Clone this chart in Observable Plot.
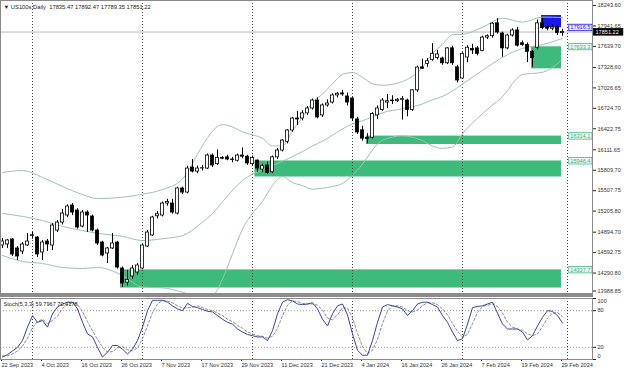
<!DOCTYPE html>
<html><head><meta charset="utf-8">
<script src="https://cdn.jsdelivr.net/npm/d3@7"></script>
<script src="https://cdn.jsdelivr.net/npm/@observablehq/plot@0.6"></script>
<style>
html,body{margin:0;padding:0;background:#fff;}
#wrap{position:relative;width:625px;height:375px;overflow:hidden;background:#fff;}
#wrap svg{position:absolute;left:0;}
#sep{position:absolute;left:0;top:294px;width:593px;height:3px;background:#8c8c8c;}
</style></head><body><div id="wrap"><div id="sep"></div></div>
<script>
// ---- data ----
const open = [14698,14713,14787,14654,14609,14698,14840,14816,14595,14757,
14698,14919,15037,15141,15289,15215,14978,15185,15126,14919,
14742,14580,14654,14742,14358,14150,14240,14299,14358,14683,
14846,15130,15141,15318,15318,15170,15540,15480,15850,15790,
15835,15835,16027,15900,15990,16000,15968,15950,16027,16010,
15900,15953,15820,15880,15780,16000,16101,16230,16397,16574,
16574,16650,16722,16840,16620,16767,16810,16915,16945,16900,
16870,16560,16400,16290,16290,16620,16700,16810,16840,16830,
16850,16840,16700,16990,17330,17380,17440,17470,17460,17390,
17610,17330,17165,17475,17600,17610,17570,17770,17790,17980,
17830,17610,17800,17875,17686,17660,17560,17620,17980,17930,
17900,17920,17835.47];
const high = [14801,14787,14801,14683,14742,14875,14890,14831,14772,14787,
15022,15067,15230,15300,15318,15240,15215,15210,15150,14940,
14760,14670,14875,14760,14380,14330,14400,14430,14720,14920,
15130,15200,15340,15380,15380,15560,15560,15870,15968,15870,
15880,16050,16050,16110,16010,16030,16000,16050,16140,16030,
16020,15960,15900,15930,16020,16130,16260,16410,16590,16680,
16690,16750,16860,16880,16790,16850,16940,16960,16990,16950,
16880,16590,16460,16350,16660,16760,16870,16930,16910,16870,
16900,16860,17000,17350,17450,17460,17680,17580,17480,17620,
17640,17360,17545,17650,17670,17640,17790,17810,17990,18050,
17850,17820,17900,17920,17720,17690,17580,18030,18050,17960,
17960,17940,17892.47];
const low = [14654,14654,14535,14476,14565,14683,14790,14521,14476,14609,
14624,14890,15000,15110,15140,14940,14960,14890,14900,14700,
14530,14432,14640,14350,14078,14100,14200,14260,14340,14670,
14830,15090,15120,15280,15160,15150,15450,15460,15770,15760,
15800,15820,15850,15880,15965,15950,15920,15930,15980,15880,
15870,15780,15780,15750,15760,15970,16080,16200,16370,16470,
16540,16620,16700,16570,16590,16740,16790,16880,16900,16760,
16530,16340,16240,16200,16270,16560,16680,16720,16780,16810,
16550,16600,16680,16960,17300,17330,17420,17440,17360,17370,
17360,17100,17150,17400,17520,17500,17560,17740,17760,17820,
17480,17590,17780,17630,17640,17400,17330,17590,17890,17870,
17870,17800,17789.35];
const close = [14757,14772,14565,14535,14713,14757,14850,14565,14742,14713,
14993,15037,15170,15274,15185,14964,15185,15141,14919,14728,
14550,14654,14728,14373,14137,14190,14358,14403,14698,14890,
15112,15160,15318,15340,15185,15540,15480,15835,15790,15835,
15840,16027,15880,15990,15980,15968,15960,16027,16010,15910,
15990,15835,15870,15770,16000,16101,16249,16397,16574,16560,
16650,16722,16840,16590,16767,16796,16915,16940,16930,16810,
16575,16367,16276,16270,16640,16722,16840,16830,16830,16850,
16860,16700,16990,17327,17310,17420,17530,17520,17390,17610,
17390,17136,17530,17620,17580,17530,17770,17790,17975,17845,
17610,17800,17875,17650,17660,17560,17470,17980,17910,17900,
17920,17840,17851.22];

// Bollinger bands, read at sample bars
const bbIdx   = [0,4,8,12,16,19,24,28,32,36,40,42,44,46,48,50,52,54,56,58,60,62,64,66,68,70,72,74,76,80,84,86,88,90,92,96,100,104,108,112];
const bbUpper = [15777,15806,15703,15570,15451,15392,15411,15456,15524,15681,16171,16390,16483,16450,16376,16333,16281,16169,16169,16395,16591,16810,16936,17087,17226,17253,17183,17087,17065,17121,17331,17533,17669,17812,17817,17923,18055,17997,18073,18065];
const bbMid   = [15171,15127,15067,14979,14919,14878,14833,14770,14798,14845,15043,15170,15343,15512,15658,15753,15815,15877,15943,16011,16087,16170,16240,16329,16420,16495,16541,16598,16659,16719,16789,16851,16901,16982,17083,17285,17477,17610,17665,17757];
const bbLower = [14550,14462,14432,14373,14358,14373,14255,14084,14072,14009,13915,13950,14203,14574,14940,15173,15349,15585,15717,15627,15583,15530,15544,15571,15614,15737,15899,16109,16253,16317,16247,16169,16133,16152,16349,16647,16899,17223,17257,17449];

// Stochastic (5,3,3)
const stochK = [4,8,14,20,31,53,72,61,64,53,
75,86,91,94,94,83,61,42,37,20,
4,12,23,23,17,9,17,31,53,80,
97,97,97,94,88,83,80,92,87,85,
82,79,78,72,66,61,58,50,45,41,
39,37,37,31,47,75,94,98,96,91,
90,91,93,83,66,55,75,88,91,73,
42,15,7,7,31,61,86,90,88,86,
83,72,80,91,94,94,90,86,72,61,
45,31,34,58,85,87,88,91,94,76,
58,50,50,50,45,32,39,55,69,80,
79,72,59.8];
const stochD = [6,6,9,14,22,35,52,62,66,59,
64,71,84,90,93,90,79,62,47,33,
20,12,13,19,21,16,14,19,34,55,
77,91,97,96,93,88,84,85,86,88,
85,82,80,76,72,66,62,56,51,45,
42,39,38,35,38,51,72,89,96,95,
92,91,91,89,81,68,65,73,85,84,
69,43,21,10,15,33,59,79,88,88,
86,80,78,81,88,93,93,90,83,73,
59,46,37,41,59,77,87,89,91,87,
76,61,53,50,48,42,39,42,54,68,
76,77,70.4];

// zones (demand = green, supply = blue)
const zoneStart  = [105.8, 72.8, 50.5, 23.6];
const zoneEnd    = [111.8, 111.8, 111.8, 111.8];
const zoneTop    = [17633.3, 16314.1, 15946.4, 14337.7];
const zoneBottom = [17308, 16190, 15710, 14070];
const zoneLabels = ["17633.3", "16314.1", "15946.4", "14337.7"];
const supplyStart = [107.8], supplyEnd = [111.8], supplyTop = [18096], supplyBottom = [17916.5];
const supplyLabels = ["17916.5"];
const bidPrice = 17851.22;

// axes
const priceTicks = [18243.60,17941.65,17639.70,17328.60,17026.65,16724.70,16422.75,16111.65,15809.70,15507.75,15205.80,14894.70,14592.75,14290.80];
const priceBottomTick = [13988.85];
const stochTicks = [0, 20, 80, 100];
const stochLabelShift = [-3, 0, 0, 2.5];
const labelIdx = [0,8,16,24,32,40,48,56,64,72,80,88,96,104,112];
const dateLabels = ["22 Sep 2023","4 Oct 2023","16 Oct 2023","26 Oct 2023","7 Nov 2023","17 Nov 2023","29 Nov 2023","11 Dec 2023","21 Dec 2023","4 Jan 2024","16 Jan 2024","26 Jan 2024","7 Feb 2024","19 Feb 2024","29 Feb 2024"];
const monthStartIdx = [6,28,50,70,92,113];
const headerText = "\u25BC US100s,Daily  17835.47 17892.47 17789.35 17851.22";
const stochText = "Stoch(5,3,3) 59.7967 70.4178";

// ---- build ----
const bars = close.map((c, i) => ({i, o: open[i], h: high[i], l: low[i], c}));
const bands = bbIdx.map((i, k) => ({i, u: bbUpper[k], m: bbMid[k], lo: bbLower[k]}));
const zones = zoneStart.map((s, k) => ({s, e: zoneEnd[k], t: zoneTop[k], b: zoneBottom[k], label: zoneLabels[k]}));
const supply = supplyStart.map((s, k) => ({s, e: supplyEnd[k], t: supplyTop[k], b: supplyBottom[k], label: supplyLabels[k]}));
const kData = stochK.map((v, i) => ({i, v}));
const dData = stochD.map((v, i) => ({i, v}));

const xDomain = [-0.4, 118];
const FONT = "'Liberation Sans', Arial, sans-serif";
const GREEN = "#3dba7c", BLUE = "#1818ee", BAND = "#9fc2b1";

const mainPlot = Plot.plot({
  width: 625, height: 294,
  marginLeft: 0, marginRight: 33, marginTop: 0, marginBottom: 1,
  x: {domain: xDomain, axis: null, label: null},
  y: {domain: [13988.85, 18317.5], axis: null, label: null},
  color: {type: "identity"},
  style: {fontFamily: FONT, fontSize: "5.6px", color: "#222", background: "transparent", overflow: "hidden"},
  marks: [
    Plot.rect(zones, {x1: "s", x2: "e", y1: "b", y2: "t", fill: GREEN}),
    Plot.rect(supply, {x1: "s", x2: "e", y1: "b", y2: "t", fill: BLUE}),
    Plot.ruleX(monthStartIdx, {stroke: "#444", strokeDasharray: "1,2"}),
    Plot.ruleY([bidPrice], {stroke: "#b8b8b8"}),
    Plot.line(bands, {x: "i", y: "u", stroke: BAND, strokeWidth: 1, curve: "monotone-x", clip: true}),
    Plot.line(bands, {x: "i", y: "m", stroke: BAND, strokeWidth: 1, curve: "monotone-x", clip: true}),
    Plot.line(bands, {x: "i", y: "lo", stroke: BAND, strokeWidth: 1, curve: "monotone-x", clip: true}),
    Plot.ruleX(bars, {x: "i", y1: "l", y2: "h", stroke: "#000", strokeWidth: 1}),
    Plot.rect(bars, {x1: d => d.i - 0.3, x2: d => d.i + 0.3, y1: "o", y2: "c",
      fill: d => d.c >= d.o ? "#ffffff" : "#000000", stroke: "#000", strokeWidth: 0.8}),
    Plot.axisY({anchor: "right", label: null, ticks: priceTicks, tickFormat: d => d.toFixed(2), tickSize: 3, tickPadding: 2, fill: "#333"}),
    Plot.axisY({anchor: "right", label: null, ticks: priceBottomTick, tickFormat: d => d.toFixed(2), tickSize: 3, tickPadding: 2, dy: -2.5, fill: "#333"}),
    Plot.text(zones, {y: "t", text: "label", frameAnchor: "right", textAnchor: "end", dx: -2, fill: "#45a576"}),
    Plot.text(supply, {y: "b", text: "label", frameAnchor: "right", textAnchor: "end", dx: -2, fill: BLUE}),
    Plot.text([bidPrice], {y: d => d, text: d => d.toFixed(2), frameAnchor: "right", textAnchor: "start", dx: 3, fill: "#fff"}),
    Plot.frame({stroke: "#8a8a8a"}),
    Plot.text([headerText], {text: d => d, frameAnchor: "top-left", dx: 3, dy: 4, lineAnchor: "top", fill: "#222", fontSize: 5.8})
  ]
});
mainPlot.style.top = "0px";

const stochPlot = Plot.plot({
  width: 625, height: 78,
  marginLeft: 0, marginRight: 33, marginTop: 1, marginBottom: 16,
  x: {domain: xDomain, axis: null, label: null},
  y: {domain: [0, 100], axis: null, label: null},
  style: {fontFamily: FONT, fontSize: "5.6px", color: "#222", background: "transparent", overflow: "hidden"},
  marks: [
    Plot.ruleY([20, 80], {stroke: "#9a9a9a", strokeDasharray: "1,2"}),
    Plot.ruleX(monthStartIdx, {stroke: "#444", strokeDasharray: "1,2"}),
    Plot.line(dData, {x: "i", y: "v", stroke: "#8e8e8e", strokeWidth: 1, strokeDasharray: "2.5,2"}),
    Plot.line(kData, {x: "i", y: "v", stroke: "#36479a", strokeWidth: 1}),
    Plot.axisY({anchor: "right", label: null, ticks: stochTicks, tickSize: 3, tickFormat: () => ""}),
    ...stochTicks.map((t, k) => Plot.text([t], {y: d => d, text: d => String(d), frameAnchor: "right",
      textAnchor: "start", dx: 5, dy: stochLabelShift[k], fill: "#333"})),
    Plot.axisX({anchor: "bottom", label: null, ticks: labelIdx, tickFormat: d => dateLabels[labelIdx.indexOf(d)],
      tickSize: 2, tickPadding: 2, textAnchor: "start", dx: -1, fill: "#333"}),
    Plot.frame({stroke: "#8a8a8a"}),
    Plot.text([stochText], {text: d => d, frameAnchor: "top-left", dx: 3, dy: 4, lineAnchor: "top", fill: "#222"})
  ]
});
stochPlot.style.top = "297px";

const wrap = document.getElementById("wrap");
wrap.appendChild(mainPlot);
wrap.appendChild(stochPlot);

// boxes behind price labels
function boxText(svg, label, fill, stroke, padX, padY, extendRight) {
  svg.querySelectorAll("text").forEach(t => {
    if (t.textContent !== label) return;
    const b = t.getBBox();
    const r = document.createElementNS("http://www.w3.org/2000/svg", "rect");
    r.setAttribute("x", b.x - padX);
    r.setAttribute("y", b.y - padY);
    r.setAttribute("width", b.width + 2 * padX + (extendRight || 0));
    r.setAttribute("height", b.height + 2 * padY);
    r.setAttribute("fill", fill);
    r.setAttribute("stroke", stroke);
    r.setAttribute("stroke-width", 0.8);
    const tr = t.getAttribute("transform");
    if (tr) r.setAttribute("transform", tr);
    t.parentNode.insertBefore(r, t);
  });
}
zoneLabels.forEach(l => boxText(mainPlot, l, "#f1faf5", GREEN, 1.5, 0.2, 0));
supplyLabels.forEach(l => boxText(mainPlot, l, "#eeeeff", BLUE, 1.5, 0.2, 0));
boxText(mainPlot, bidPrice.toFixed(2), "#000", "#000", 2, 0.3, 2);
</script></body></html>
